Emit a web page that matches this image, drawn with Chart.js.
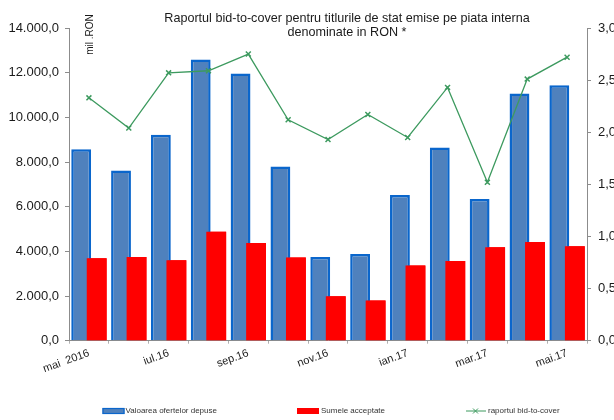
<!DOCTYPE html>
<html><head><meta charset="utf-8">
<script src="https://cdn.jsdelivr.net/npm/chart.js@4.4.0/dist/chart.umd.min.js"></script>
<style>html,body{margin:0;padding:0;background:#fff;}#wrap{width:614px;height:420px;}</style>
</head><body><div id="wrap"><canvas id="c" width="614" height="420"></canvas></div>
<script>
const categories = ['mai 2016','iun.16','iul.16','aug.16','sep.16','oct.16','nov.16','dec.16','ian.17','feb.17','mar.17','apr.17','mai.17'];
const xTickLabels = ['mai  2016','','iul.16','','sep.16','','nov.16','','ian.17','','mar.17','','mai.17'];
const oferteDepuse = [8570,7620,9225,12590,11960,7800,3750,3880,6520,8645,6340,11070,11440];
const sumeAcceptate = [3690,3750,3600,4880,4375,3720,1985,1805,3365,3570,4180,4420,4225];
const bidToCover = [2.33,2.04,2.57,2.59,2.75,2.12,1.93,2.17,1.95,2.43,1.52,2.51,2.72];
const seriesNames = ['Valoarea ofertelor depuse','Sumele acceptate','raportul bid-to-cover'];
const titleLines = ['Raportul bid-to-cover pentru titlurile de stat emise pe piata interna','denominate in RON *'];
const unitLabel = 'mil .RON';

const FONT = '"Liberation Sans", Arial, sans-serif';
const BLUE = '#4f81bd', BLUE_EDGE = '#0a66cc', RED = '#ff0000', GREEN = '#3d9a5f', AXIS = '#8c8c8c', TXT = '#1a1a1a';

function fmtLeft(v){
  const s = Math.round(v).toString().replace(/\B(?=(\d{3})+(?!\d))/g,'.');
  return s + ',0';
}

const redrawRed = {
  id:'redrawRed',
  afterDatasetDraw(chart, args){
    if (args.index === 0) {
      const area = chart.chartArea, ctx = chart.ctx;
      ctx.save();
      ctx.beginPath(); ctx.rect(area.left, area.top, area.right-area.left, area.bottom-area.top); ctx.clip();
      chart.getDatasetMeta(1).controller.draw();
      ctx.restore();
    }
  }
};

const decor = {
  id:'decor',
  afterDraw(chart){
    const ctx = chart.ctx;
    ctx.save();
    // title
    ctx.fillStyle = TXT;
    ctx.font = '12.6px ' + FONT;
    ctx.textAlign = 'center'; ctx.textBaseline = 'alphabetic';
    ctx.fillText(titleLines[0], 347, 21.5);
    ctx.fillText(titleLines[1], 347, 35.5);
    // unit label
    ctx.save();
    ctx.translate(90, 34.5);
    ctx.rotate(-Math.PI/2);
    ctx.font = '10px ' + FONT;
    ctx.textBaseline = 'middle';
    ctx.fillText(unitLabel, 0, 0);
    ctx.restore();
    // legend
    const cy = 411;
    ctx.font = '8px ' + FONT;
    ctx.textAlign = 'left'; ctx.textBaseline = 'middle';
    ctx.fillStyle = '#333';
    // item 1
    ctx.fillStyle = BLUE; ctx.fillRect(102.5, cy-3, 22, 6);
    ctx.strokeStyle = BLUE_EDGE; ctx.lineWidth = 1.2; ctx.strokeRect(103, cy-2.5, 21, 5);
    ctx.fillStyle = '#333'; ctx.fillText(chart.data.datasets[0].label, 125.5, cy);
    // item 2
    ctx.fillStyle = RED; ctx.fillRect(297, cy-3, 22, 6);
    ctx.fillStyle = '#333'; ctx.fillText(chart.data.datasets[1].label, 321, cy);
    // item 3
    ctx.strokeStyle = GREEN; ctx.lineWidth = 1;
    ctx.beginPath(); ctx.moveTo(466, cy); ctx.lineTo(486, cy); ctx.stroke();
    ctx.beginPath(); ctx.moveTo(473, cy-2.5); ctx.lineTo(478, cy+2.5); ctx.moveTo(473, cy+2.5); ctx.lineTo(478, cy-2.5); ctx.stroke();
    ctx.fillStyle = '#333'; ctx.fillText(chart.data.datasets[2].label, 488, cy);
    ctx.restore();
  }
};

new Chart(document.getElementById('c'), {
  type:'bar',
  data:{
    labels: categories,
    datasets:[
      {label: seriesNames[0], data: oferteDepuse, backgroundColor: BLUE, borderColor: BLUE_EDGE, borderWidth: 2.5,
       categoryPercentage: 0.778, barPercentage: 1.28, yAxisID:'y', order: 0},
      {label: seriesNames[1], data: sumeAcceptate, backgroundColor: RED, borderWidth: 0,
       categoryPercentage: 0.778, barPercentage: 1.28, yAxisID:'y', order: 0},
      {type:'line', label: seriesNames[2], data: bidToCover, borderColor: GREEN, backgroundColor: GREEN, borderWidth: 1.3,
       pointStyle:'crossRot', pointRadius: 3.5, pointBorderWidth: 1.5, pointBorderColor: GREEN, tension: 0, yAxisID:'y1', order: -1}
    ]
  },
  options:{
    responsive:false, animation:false, devicePixelRatio:1,
    events: [],
    layout:{padding:{top:28, left:0, right:0, bottom:0}},
    plugins:{legend:{display:false}, tooltip:{enabled:false}, title:{display:false}},
    scales:{
      x:{
        offset:true,
        grid:{display:true, drawOnChartArea:false, offset:true, color:'#b0b0b0', tickLength:3},
        border:{color:AXIS, width:1},
        ticks:{autoSkip:false, maxRotation:20, minRotation:20, padding:3, color:TXT,
               font:{family:FONT, size:11}, callback:(v,i)=>xTickLabels[i]},
        afterFit:(s)=>{ s.height = 79.3; }
      },
      y:{
        position:'left', min:0, max:14000,
        grid:{drawOnChartArea:false, color:AXIS, tickLength:4},
        border:{color:AXIS, width:1},
        ticks:{stepSize:2000, padding:6, color:TXT, font:{family:FONT, size:13}, callback:(v)=>fmtLeft(v)},
        afterFit:(s)=>{ s.width = 69; }
      },
      y1:{
        position:'right', min:0, max:3,
        grid:{drawOnChartArea:false, color:AXIS, tickLength:4},
        border:{color:AXIS, width:1},
        ticks:{stepSize:0.5, padding:7, color:TXT, font:{family:FONT, size:13}, callback:(v)=>v.toFixed(1).replace('.',',')},
        afterFit:(s)=>{ s.width = 27; }
      }
    }
  },
  plugins:[redrawRed, decor]
});
</script></body></html>
